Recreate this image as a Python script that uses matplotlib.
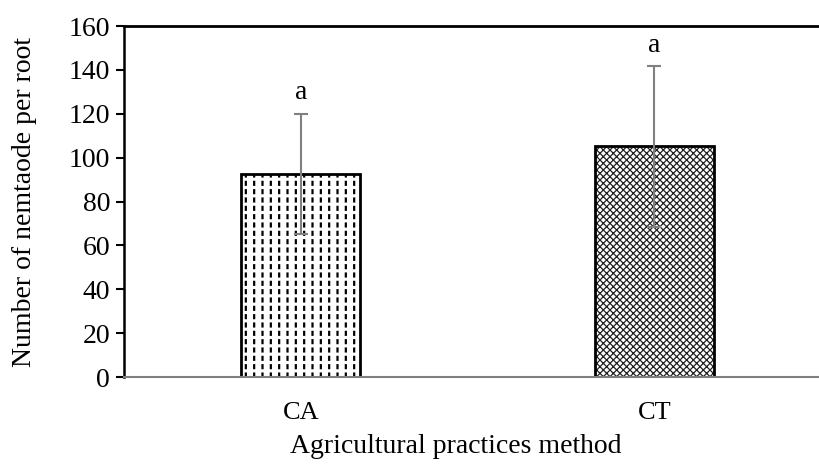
import matplotlib.pyplot as plt
import matplotlib as mpl

plt.rcParams['font.family'] = ['Liberation Serif', 'DejaVu Serif']

categories = ["CA", "CT"]
means = [92.5, 105.2]
errors = [27.5, 36.6]
letters = ["a", "a"]
y_ticks = [0, 20, 40, 60, 80, 100, 120, 140, 160]

fig = plt.figure(figsize=(8.19, 4.65), dpi=100)
ax = fig.add_axes([0.1514, 0.1892, 0.8633, 0.7548])

x = list(range(len(categories)))
width = 0.337

# CA: dashed vertical lines (black | hatch, broken by white horizontal hatch)
with mpl.rc_context({'hatch.linewidth': 1.6}):
    ax.bar(x[0], means[0], width, color="white", edgecolor="black", hatch="||", linewidth=0)
with mpl.rc_context({'hatch.linewidth': 2.3}):
    ax.bar(x[0], means[0], width, color="none", edgecolor="white", hatch="--", linewidth=0)
# CT: dense weave pattern
with mpl.rc_context({'hatch.linewidth': 0.9}):
    ax.bar(x[1], means[1], width, color="white", edgecolor="#222222", hatch="xxxxx", linewidth=0)
# outlines
ax.bar(x, means, width, color="none", edgecolor="black", linewidth=2.0, zorder=3)

ax.errorbar(x, means, yerr=errors, fmt="none", ecolor="#808080", elinewidth=1.5,
            capsize=5, capthick=1.5, zorder=4)

for xi, m, e, t in zip(x, means, errors, letters):
    ax.annotate(t, (xi, m + e), xytext=(0, 6), textcoords="offset points",
                ha="center", va="bottom", fontsize=20)

ax.set_xlim(-0.5, 1.5)
ax.set_ylim(0, 160)
ax.set_yticks(y_ticks)
ax.set_xticks(x)
ax.set_xticklabels(categories)
ax.tick_params(axis='y', direction='out', length=6, width=1.5, labelsize=20, pad=4)
ax.tick_params(axis='x', length=0, labelsize=19, pad=18)

ax.spines['right'].set_visible(False)
ax.spines['left'].set_linewidth(1.8)
ax.spines['top'].set_linewidth(2.0)
ax.spines['bottom'].set_color("#808080")
ax.spines['bottom'].set_linewidth(1.5)
ax.spines['bottom'].set_zorder(5)

ax.set_ylabel("Number of nemtaode per root", fontsize=20)
ax.yaxis.set_label_coords(-(124 - 37) / 707, 0.5)
ax.set_xlabel("Agricultural practices method", fontsize=20)
ax.xaxis.set_label_coords((456 - 124) / 707, -(434 - 377) / 351)

fig.savefig("out.png", dpi=100)
